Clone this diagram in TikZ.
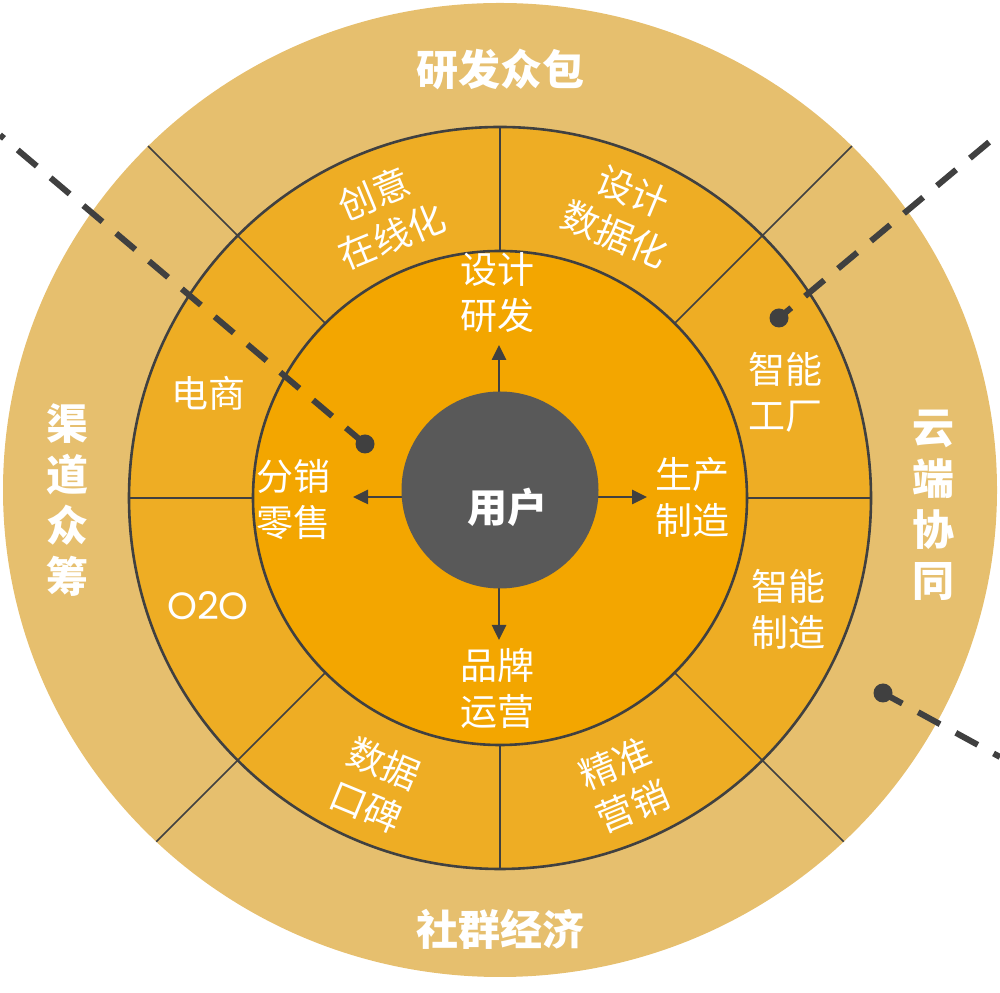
\documentclass[tikz,border=0pt]{standalone}
\usepackage{fontspec}
\setmainfont{Noto Sans CJK SC}
\newfontfamily\latinfont{Poppins}
\usetikzlibrary{arrows.meta}
\definecolor{outerc}{HTML}{E6BF6E}
\definecolor{midc}{HTML}{EEAD24}
\definecolor{innerc}{HTML}{F3A600}
\definecolor{hubc}{HTML}{595959}
\definecolor{linec}{HTML}{404040}
\begin{document}
\begin{tikzpicture}[x=1pt,y=1pt,
  ringline/.style={draw=linec, line width=2.6pt},
  divider/.style={draw=linec, line width=1.6pt},
  outerlabel/.style={text=white, font=\fontsize{42}{51}\selectfont\bfseries, align=center, inner sep=0pt},
  midlabel/.style={text=white, font=\fontsize{37}{46}\selectfont, align=center, inner sep=0pt},
  arrowline/.style={draw=linec, line width=2.6pt, -{Triangle[length=15pt,width=14pt]}},
  dashline/.style={draw=linec, line width=6pt, dash pattern=on 25pt off 18pt},
  dotnode/.style={circle, fill=linec, minimum size=19pt, inner sep=0pt},
]
\useasboundingbox (0,0) rectangle (1000,992);
% rings
\fill[outerc] (500,502) ellipse [x radius=497pt, y radius=487pt];
\fill[midc] (500,494) circle [radius=371pt];
\fill[innerc] (500,494) circle [radius=247pt];
\begin{scope}
  \clip (500,502) ellipse [x radius=497pt, y radius=487pt];
  \foreach \a in {45,135,225,315}
    \draw[divider, shift={(500,494)}] (\a:247) -- (\a:650);
\end{scope}
\foreach \a in {0,90,180,270}
  \draw[divider, shift={(500,494)}] (\a:247) -- (\a:371);
\draw[ringline] (500,494) circle [radius=371pt];
\draw[ringline] (500,494) circle [radius=247pt];
% arrows from the hub
\coordinate (hub) at (499,495);
\coordinate (tipUp) at (499,647);
\coordinate (tipDown) at (499,352);
\coordinate (tipLeft) at (353,495);
\coordinate (tipRight) at (647,495);
\draw[arrowline] (hub) -- (tipUp);
\draw[arrowline] (hub) -- (tipDown);
\draw[arrowline] (hub) -- (tipLeft);
\draw[arrowline] (hub) -- (tipRight);
\node[circle, fill=hubc, minimum size=197pt, inner sep=0pt] (user) at (500,502) {};
\node[text=white, font=\fontsize{40}{48}\selectfont\bfseries, inner sep=0pt] (userlabel) at (507,485) {用户};
% outer labels
\node[outerlabel] (rdzb) at (500,923) {研发众包};
\node[outerlabel] (sqjj) at (500,63) {社群经济};
\node[outerlabel] (qdzc) at (67,492) {渠\\道\\众\\筹};
\node[outerlabel] (ydxt) at (933,487) {云\\端\\协\\同};
% middle ring labels
\node[midlabel, rotate=22.5] (cyzx) at (383,777) {创意\\在线化};
\node[midlabel, rotate=-22.5] (sjsj) at (624,779) {设计\\数据化};
\node[midlabel, rotate=-22.5] (sjkb) at (375,207) {数据\\口碑};
\node[midlabel, rotate=22.5] (jzyx) at (624,207) {精准\\营销};
\node[midlabel] (zngc) at (785,600) {智能\\工厂};
\node[midlabel] (znzz) at (788,383) {智能\\制造};
\node[midlabel] (ds) at (208,599) {电商};
\node[midlabel, font=\latinfont\fontsize{38}{44}\selectfont] (oto) at (208,386) {O2O};
% inner labels
\node[midlabel] (sjyf) at (497,699) {设计\\研发};
\node[midlabel] (fxls) at (293,492) {分销\\零售};
\node[midlabel] (sczz) at (692,495) {生产\\制造};
\node[midlabel] (ppyy) at (497,304) {品牌\\运营};
% dashed pointers
\node[dotnode] (dotA) at (365,548) {};
\node[dotnode] (dotB) at (779,674) {};
\node[dotnode] (dotC) at (883,299) {};
\coordinate (endA) at (0,857);
\coordinate (endB) at (1000,859);
\coordinate (endC) at (1000,235);
\draw[dashline, dash phase=0pt] (dotA.center) -- (endA);
\draw[dashline, dash phase=9pt] (dotB.center) -- (endB);
\draw[dashline, dash phase=3pt] (dotC.center) -- (endC);
\end{tikzpicture}
\end{document}
